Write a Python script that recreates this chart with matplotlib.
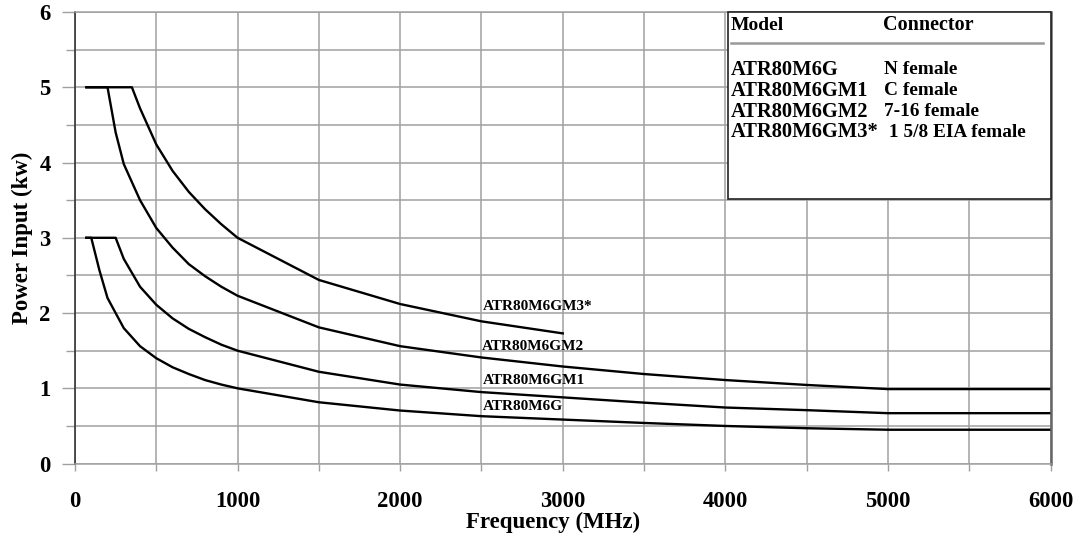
import matplotlib
matplotlib.use("Agg")
import matplotlib.pyplot as plt
from matplotlib.ticker import MultipleLocator

# ---- data ----
freq_gm = [70, 100, 150, 200, 300, 400, 500, 600, 700, 800, 900, 1000, 1500, 2000, 2500, 3000, 3500, 4000, 4500, 5000, 6000]
pow_gm = [3.0, 3.0, 2.57, 2.2, 1.8, 1.56, 1.4, 1.28, 1.19, 1.11, 1.05, 1.0, 0.815, 0.705, 0.63, 0.585, 0.54, 0.5, 0.47, 0.45, 0.45]

freq_gm1 = [70, 250, 300, 400, 500, 600, 700, 800, 900, 1000, 1500, 2000, 2500, 3000, 3500, 4000, 4500, 5000, 6000]
pow_gm1 = [3.0, 3.0, 2.72, 2.35, 2.11, 1.93, 1.79, 1.68, 1.58, 1.5, 1.22, 1.05, 0.95, 0.88, 0.81, 0.745, 0.71, 0.67, 0.67]

freq_gm2 = [70, 200, 250, 300, 400, 500, 600, 700, 800, 900, 1000, 1500, 2000, 2500, 3000, 3500, 4000, 4500, 5000, 6000]
pow_gm2 = [5.0, 5.0, 4.4, 3.98, 3.5, 3.13, 2.87, 2.65, 2.49, 2.35, 2.23, 1.81, 1.56, 1.41, 1.29, 1.19, 1.11, 1.045, 0.99, 0.99]

freq_gm3 = [70, 350, 400, 500, 600, 700, 800, 900, 1000, 1500, 2000, 2500, 3000]
pow_gm3 = [5.0, 5.0, 4.72, 4.24, 3.89, 3.61, 3.38, 3.18, 3.0, 2.44, 2.12, 1.89, 1.73]

curve_names = ["ATR80M6G", "ATR80M6GM1", "ATR80M6GM2", "ATR80M6GM3*"]
label_x = [2510, 2510, 2505, 2510]
label_y = [0.753, 1.10, 1.555, 2.086]

table_models = ["ATR80M6G", "ATR80M6GM1", "ATR80M6GM2", "ATR80M6GM3*"]
table_connectors = ["N female", "C female", "7-16 female", " 1 5/8 EIA female"]

x_ticks = [0, 1000, 2000, 3000, 4000, 5000, 6000]
y_ticks = [0, 1, 2, 3, 4, 5, 6]

# ---- figure ----
W, H = 1076, 542
fig = plt.figure(figsize=(W / 100, H / 100), dpi=100)
def fx(px):
    return px / W
def fy(py):
    return 1 - py / H

ax = fig.add_axes([fx(75), fy(463.6), fx(1050.5) - fx(75), fy(12) - fy(463.6)])
serif = ["Liberation Serif", "DejaVu Serif"]
grid_c = "#a0a0a0"

ax.set_xlim(0, 6000)
ax.set_ylim(0, 6)
ax.set_xticks(x_ticks)
ax.set_yticks(y_ticks)
ax.xaxis.set_minor_locator(MultipleLocator(500))
ax.yaxis.set_minor_locator(MultipleLocator(0.5))
ax.grid(True, which="both", color=grid_c, linewidth=1.1)
ax.set_axisbelow(True)

ax.tick_params(axis="y", which="major", length=9.5, width=1.0, color=grid_c, pad=8)
ax.tick_params(axis="y", which="minor", length=6.3, width=1.0, color=grid_c)
ax.tick_params(axis="x", which="both", length=4.8, width=1.0, color=grid_c, pad=15)
for lab in ax.get_xticklabels() + ax.get_yticklabels():
    lab.set_fontfamily(serif)
    lab.set_fontweight("bold")
    lab.set_fontsize(16.3)

for s in ["top", "bottom"]:
    ax.spines[s].set_color(grid_c)
    ax.spines[s].set_linewidth(1.1)
ax.spines["left"].set_color("#333333")
ax.spines["left"].set_linewidth(1.2)
ax.spines["right"].set_color("#666666")
ax.spines["right"].set_linewidth(1.8)

series = [(freq_gm, pow_gm), (freq_gm1, pow_gm1), (freq_gm2, pow_gm2), (freq_gm3, pow_gm3)]
for (fq, pw) in series:
    ax.plot(fq, pw, color="black", linewidth=1.7, solid_joinstyle="round")

for name, lx, ly in zip(curve_names, label_x, label_y):
    ax.text(lx, ly, name, fontfamily=serif, fontweight="bold", fontsize=11,
            ha="left", va="center")

# table box
box = plt.Rectangle((fx(728), fy(199)), fx(1050.5) - fx(728), fy(12) - fy(199),
                    transform=fig.transFigure, facecolor="white", edgecolor="#222222",
                    linewidth=1.2, zorder=5)
fig.patches.append(box)
tfs = 14.8
cfs = 13.9
fig.text(fx(731), fy(25), "Model", fontfamily=serif, fontweight="bold", fontsize=14,
         ha="left", va="center", zorder=6)
fig.text(fx(883), fy(25), "Connector", fontfamily=serif, fontweight="bold", fontsize=14.5,
         ha="left", va="center", zorder=6)
fig.add_artist(plt.Line2D([fx(731), fx(1043)], [fy(42.7), fy(42.7)], transform=fig.transFigure,
                          color="#999999", linewidth=1.8, zorder=6))
row_y = [70, 90.7, 111.7, 132.3]
for m, c, ry in zip(table_models, table_connectors, row_y):
    fig.text(fx(731), fy(ry), m, fontfamily=serif, fontweight="bold", fontsize=tfs,
             ha="left", va="center", zorder=6)
    fig.text(fx(884), fy(ry), c, fontfamily=serif, fontweight="bold", fontsize=cfs,
             ha="left", va="center", zorder=6)

fig.text(fx(553), fy(522), "Frequency (MHz)", fontfamily=serif, fontweight="bold",
         fontsize=16.5, ha="center", va="center")
fig.text(fx(22), fy(238), "Power Input (kw)", fontfamily=serif, fontweight="bold",
         fontsize=16.5, ha="center", va="center", rotation=90)

fig.savefig("out.png", dpi=100)
